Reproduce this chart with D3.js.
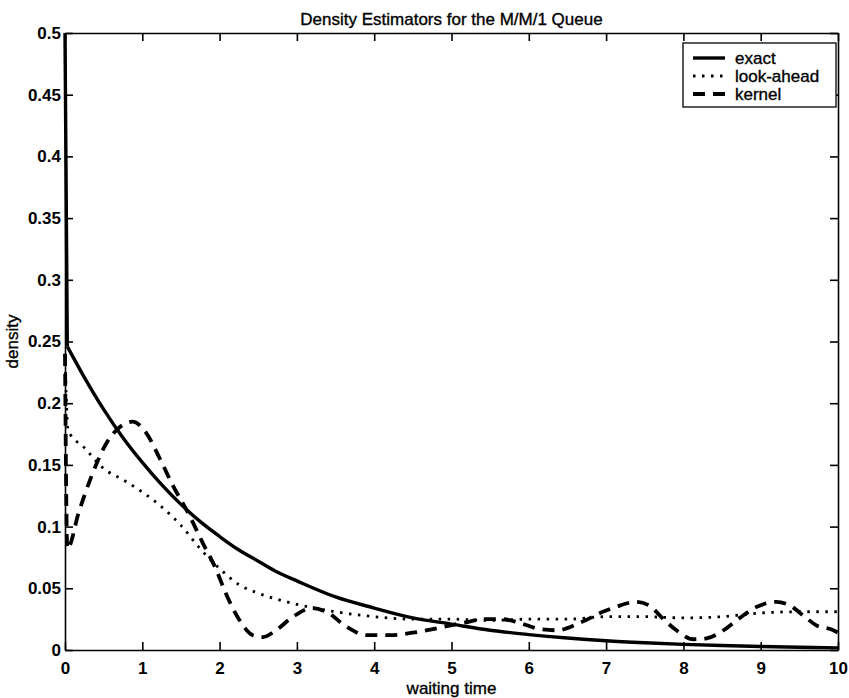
<!DOCTYPE html>
<html>
<head>
<meta charset="utf-8">
<script src="https://cdn.jsdelivr.net/npm/d3@7"></script>
<style>
  body { margin: 0; background: #fff; }
  svg { font-family: "Liberation Sans", Arial, Helvetica, sans-serif; }
  .tick text { font-size: 17px; fill: #000; font-weight: bold; }
  .axis path, .axis line { stroke: #000; stroke-width: 1.6; }
  .lbl { font-size: 17px; stroke: #000; stroke-width: 0.35; }
</style>
</head>
<body>
<svg id="chart"></svg>
<script>
// values
const exactT = [0, 0.03, 0.25, 0.5, 0.75, 1, 1.25, 1.5, 1.75, 2, 2.25, 2.5, 2.75, 3, 3.5, 4, 4.5, 5, 5.5, 6, 6.5, 7, 7.5, 8, 8.5, 9, 9.5, 10];
const exactD = [0.5, 0.246, 0.221, 0.195, 0.172, 0.152, 0.134, 0.118, 0.104, 0.092, 0.081, 0.072, 0.063, 0.056, 0.043, 0.034, 0.026, 0.021, 0.016, 0.0125, 0.0097, 0.0075, 0.0059, 0.0046, 0.0036, 0.0028, 0.0022, 0.0017];

const lookT = [0, 0.04, 0.25, 0.5, 0.75, 1, 1.25, 1.5, 1.75, 2, 2.25, 2.5, 2.75, 3, 3.5, 4, 4.5, 5, 5.5, 6, 6.5, 7, 7.5, 8, 8.5, 9, 9.5, 10];
const lookD = [0.24, 0.178, 0.164, 0.147, 0.138, 0.128, 0.116, 0.101, 0.082, 0.066, 0.053, 0.046, 0.041, 0.037, 0.031, 0.027, 0.025, 0.025, 0.024, 0.025, 0.025, 0.027, 0.027, 0.026, 0.027, 0.03, 0.031, 0.031];

const kernelT = [0, 0.03, 0.18, 0.35, 0.53, 0.68, 0.87, 1.05, 1.22, 1.39, 1.61, 1.78, 1.95, 2.08, 2.25, 2.43, 2.56, 2.73, 2.95, 3.2, 3.38, 3.64, 3.9, 4.2, 4.5, 4.84, 5.15, 5.45, 5.65, 5.88, 6.14, 6.36, 6.66, 6.96, 7.13, 7.39, 7.57, 7.74, 7.91, 8.13, 8.3, 8.52, 8.73, 8.95, 9.2, 9.38, 9.55, 9.72, 9.94, 10];
const kernelD = [0.24, 0.082, 0.112, 0.142, 0.167, 0.179, 0.185, 0.176, 0.156, 0.134, 0.109, 0.087, 0.066, 0.046, 0.025, 0.012, 0.0105, 0.016, 0.027, 0.034, 0.031, 0.019, 0.012, 0.012, 0.014, 0.018, 0.022, 0.025, 0.025, 0.022, 0.017, 0.016, 0.022, 0.031, 0.035, 0.039, 0.0355, 0.025, 0.016, 0.0087, 0.0095, 0.016, 0.026, 0.035, 0.039, 0.036, 0.028, 0.02, 0.016, 0.014];

const xTicks = [0, 1, 2, 3, 4, 5, 6, 7, 8, 9, 10];
const yTicks = [0, 0.05, 0.1, 0.15, 0.2, 0.25, 0.3, 0.35, 0.4, 0.45, 0.5];
const seriesNames = ["exact", "look-ahead", "kernel"];

const width = 849, height = 698;
const margin = { top: 33, right: 11, bottom: 48, left: 65 };

const svg = d3.select("#chart")
  .attr("width", width)
  .attr("height", height);

const x = d3.scaleLinear().domain([0, 10]).range([margin.left, width - margin.right]);
const y = d3.scaleLinear().domain([0, 0.5]).range([height - margin.bottom, margin.top]);

// axes box, ticks pointing inward
svg.append("g").attr("class", "axis")
  .attr("transform", "translate(0," + y(0) + ")")
  .call(d3.axisBottom(x).tickValues(xTicks).tickFormat(d3.format("d"))
    .tickSize(-8).tickSizeOuter(0).tickPadding(12));

svg.append("g").attr("class", "axis")
  .attr("transform", "translate(" + x(0) + ",0)")
  .call(d3.axisLeft(y).tickValues(yTicks).tickFormat(d => d === 0 ? "0" : String(d))
    .tickSize(-8).tickSizeOuter(0).tickPadding(4));

svg.append("g").attr("class", "axis")
  .attr("transform", "translate(0," + y(0.5) + ")")
  .call(d3.axisTop(x).tickValues(xTicks).tickFormat("").tickSize(-8).tickSizeOuter(0));

svg.append("g").attr("class", "axis")
  .attr("transform", "translate(" + x(10) + ",0)")
  .call(d3.axisRight(y).tickValues(yTicks).tickFormat("").tickSize(-8).tickSizeOuter(0));

// curves
const smooth = d3.line()
  .x(d => x(d[0]))
  .y(d => y(d[1]))
  .curve(d3.curveMonotoneX);

const straight = d3.line()
  .x(d => x(d[0]))
  .y(d => y(d[1]));

const styles = [
  { w: 3.4, dash: null },
  { w: 2.8, dash: "2.5,6.5" },
  { w: 3.8, dash: "12,8" }
];

const exact = d3.zip(exactT, exactD);

// the atom at zero: straight drop, then the smooth tail
svg.append("path")
  .datum(exact.slice(0, 2))
  .attr("fill", "none")
  .attr("stroke", "#000")
  .attr("stroke-width", styles[0].w)
  .attr("d", straight);

svg.append("path")
  .datum(exact.slice(1))
  .attr("fill", "none")
  .attr("stroke", "#000")
  .attr("stroke-width", styles[0].w)
  .attr("d", smooth);

[d3.zip(lookT, lookD), d3.zip(kernelT, kernelD)].forEach((s, i) => {
  svg.append("path")
    .datum(s)
    .attr("fill", "none")
    .attr("stroke", "#000")
    .attr("stroke-width", styles[i + 1].w)
    .attr("stroke-dasharray", styles[i + 1].dash)
    .attr("d", smooth);
});

// title and labels
svg.append("text")
  .attr("class", "lbl")
  .attr("x", (x(0) + x(10)) / 2)
  .attr("y", 25)
  .attr("text-anchor", "middle")
  .text("Density Estimators for the M/M/1 Queue");

svg.append("text")
  .attr("class", "lbl")
  .attr("x", (x(0) + x(10)) / 2)
  .attr("y", 694)
  .attr("text-anchor", "middle")
  .text("waiting time");

svg.append("text")
  .attr("class", "lbl")
  .attr("transform", "translate(18," + (y(0) + y(0.5)) / 2 + ") rotate(-90)")
  .attr("text-anchor", "middle")
  .text("density");

// legend
const legend = svg.append("g").attr("transform", "translate(683,43)");
legend.append("rect")
  .attr("width", 153).attr("height", 64)
  .attr("fill", "#fff").attr("stroke", "#000").attr("stroke-width", 1.3);

seriesNames.forEach((name, i) => {
  const ly = 15 + i * 18;
  legend.append("line")
    .attr("x1", 10).attr("x2", 42)
    .attr("y1", ly).attr("y2", ly)
    .attr("stroke", "#000")
    .attr("stroke-width", styles[i].w)
    .attr("stroke-dasharray", styles[i].dash);
  legend.append("text")
    .attr("class", "lbl")
    .attr("x", 52).attr("y", ly + 6)
    .text(name);
});
</script>
</body>
</html>
